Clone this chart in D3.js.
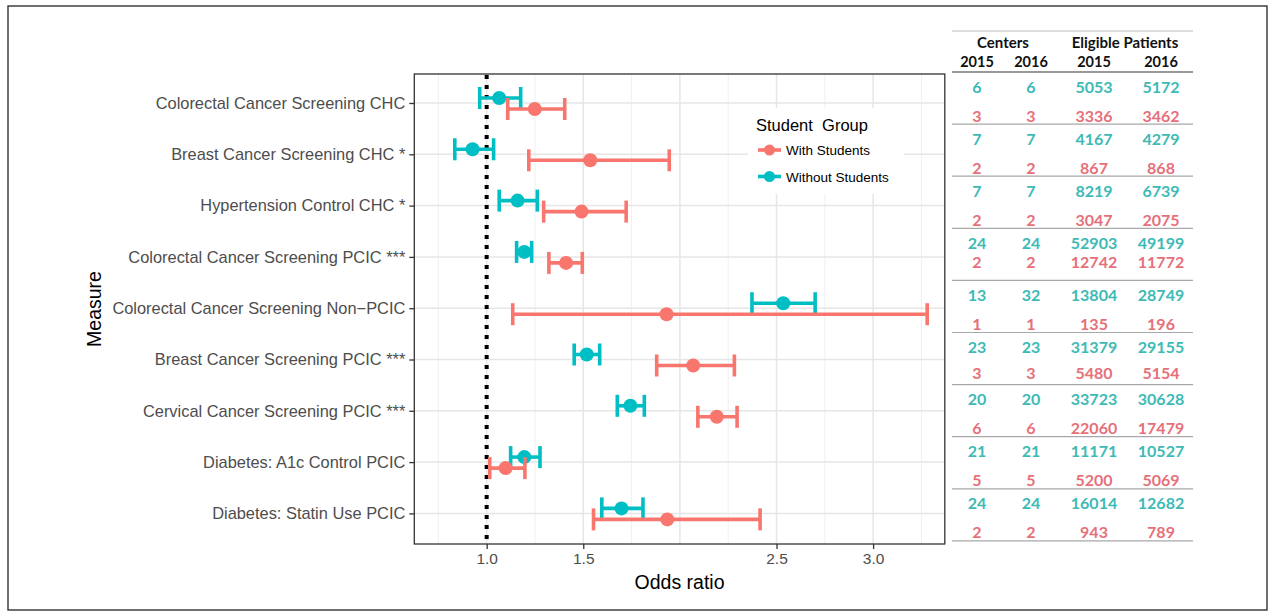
<!DOCTYPE html>
<html>
<head>
<meta charset="utf-8">
<script src="https://cdn.jsdelivr.net/npm/d3@7"></script>
<style>
  body { margin: 0; background: #fff; }
  svg { display: block; }
  .axis text { font-family: "Liberation Sans", Arial, sans-serif; fill: #4d4d4d; }
  .axis path, .axis line { stroke: #333; stroke-width: 1.3; }
  .tbl text { font-family: Lato, "Open Sans", sans-serif; font-weight: 700; }
</style>
</head>
<body>
<div id="chart"></div>
<script>
// measures, top to bottom
var measures = [
  "Colorectal Cancer Screening CHC",
  "Breast Cancer Screening CHC *",
  "Hypertension Control CHC *",
  "Colorectal Cancer Screening PCIC ***",
  "Colorectal Cancer Screening Non\u2212PCIC",
  "Breast Cancer Screening PCIC ***",
  "Cervical Cancer Screening PCIC ***",
  "Diabetes: A1c Control PCIC",
  "Diabetes: Statin Use PCIC"
];

// odds ratios and CIs
var withOR = [1.249, 1.536, 1.491, 1.411, 1.931, 2.069, 2.191, 1.098, 1.935];
var withLo = [1.109, 1.218, 1.295, 1.322, 1.135, 1.880, 2.093, 1.016, 1.553];
var withHi = [1.404, 1.945, 1.722, 1.495, 3.280, 2.282, 2.296, 1.198, 2.415];
var withoutOR = [1.065, 0.927, 1.160, 1.195, 2.535, 1.518, 1.744, 1.195, 1.698];
var withoutLo = [0.964, 0.835, 1.065, 1.155, 2.373, 1.453, 1.676, 1.124, 1.596];
var withoutHi = [1.176, 1.036, 1.262, 1.233, 2.700, 1.585, 1.816, 1.276, 1.809];

var xTicks = [1.0, 1.5, 2.5, 3.0];
var groups = ["With Students", "Without Students"];

// table values
var withoutCenters2015 = [6, 7, 7, 24, 13, 23, 20, 21, 24];
var withoutCenters2016 = [6, 7, 7, 24, 32, 23, 20, 21, 24];
var withoutPatients2015 = [5053, 4167, 8219, 52903, 13804, 31379, 33723, 11171, 16014];
var withoutPatients2016 = [5172, 4279, 6739, 49199, 28749, 29155, 30628, 10527, 12682];
var withCenters2015 = [3, 2, 2, 2, 1, 3, 6, 5, 2];
var withCenters2016 = [3, 2, 2, 2, 1, 3, 6, 5, 2];
var withPatients2015 = [3336, 867, 3047, 12742, 135, 5480, 22060, 5200, 943];
var withPatients2016 = [3462, 868, 2075, 11772, 196, 5154, 17479, 5069, 789];

var red = "#F8766D", cyan = "#00BFC4";
var redText = "#e6707a", cyanText = "#3dbab5";

var svgWidth = 1273, svgHeight = 616;
var panel = { left: 414.3, right: 944.8, top: 74, bottom: 544 };

var svg = d3.select("#chart").append("svg")
  .attr("width", svgWidth)
  .attr("height", svgHeight);

// outer frame
svg.append("rect")
  .attr("x", 8).attr("y", 6)
  .attr("width", 1259).attr("height", 604)
  .attr("fill", "none").attr("stroke", "#333").attr("stroke-width", 1.4);

var xScale = d3.scaleLinear()
  .domain([0.6255, 3.371])
  .range([panel.left, panel.right]);

var yScale = d3.scalePoint()
  .domain(measures)
  .range([103, 513.4]);

// grid
var g = svg.append("g");
var minor = d3.range(0.75, 3.3, 0.5);
var major = d3.range(1.0, 3.01, 0.5);
g.selectAll(".minor").data(minor).enter().append("line")
  .attr("x1", d => xScale(d)).attr("x2", d => xScale(d))
  .attr("y1", panel.top).attr("y2", panel.bottom)
  .attr("stroke", "#f0f0f0").attr("stroke-width", 1);
g.selectAll(".major").data(major).enter().append("line")
  .attr("x1", d => xScale(d)).attr("x2", d => xScale(d))
  .attr("y1", panel.top).attr("y2", panel.bottom)
  .attr("stroke", "#e6e6e6").attr("stroke-width", 1.5);
g.selectAll(".hgrid").data(measures).enter().append("line")
  .attr("x1", panel.left).attr("x2", panel.right)
  .attr("y1", d => yScale(d)).attr("y2", d => yScale(d))
  .attr("stroke", "#e6e6e6").attr("stroke-width", 1.5);

// legend background (covers grid)
svg.append("rect")
  .attr("x", 748).attr("y", 108).attr("width", 156).attr("height", 86)
  .attr("fill", "#fff");

// reference line at OR = 1
svg.append("line")
  .attr("x1", xScale(1)).attr("x2", xScale(1))
  .attr("y1", panel.top + 1).attr("y2", panel.bottom)
  .attr("stroke", "#000").attr("stroke-width", 4)
  .attr("stroke-dasharray", "4 6");

// build rows for the two groups
var series = [
  { name: groups[1], color: cyan, dy: -5, or: withoutOR, lo: withoutLo, hi: withoutHi },
  { name: groups[0], color: red, dy: 6, or: withOR, lo: withLo, hi: withHi }
];

series.forEach(function(s) {
  var rows = measures.map(function(m, i) {
    return { m: m, or: s.or[i], lo: s.lo[i], hi: s.hi[i] };
  });
  var sg = svg.append("g");
  var capH = 11;
  sg.selectAll(".bar").data(rows).enter().append("line")
    .attr("x1", d => xScale(d.lo)).attr("x2", d => xScale(d.hi))
    .attr("y1", d => yScale(d.m) + s.dy).attr("y2", d => yScale(d.m) + s.dy)
    .attr("stroke", s.color).attr("stroke-width", 3.6);
  ["lo", "hi"].forEach(function(k) {
    sg.selectAll(".cap" + k).data(rows).enter().append("line")
      .attr("x1", d => xScale(d[k])).attr("x2", d => xScale(d[k]))
      .attr("y1", d => yScale(d.m) + s.dy - capH).attr("y2", d => yScale(d.m) + s.dy + capH)
      .attr("stroke", s.color).attr("stroke-width", 3.6);
  });
  sg.selectAll("circle").data(rows).enter().append("circle")
    .attr("cx", d => xScale(d.or))
    .attr("cy", d => yScale(d.m) + s.dy)
    .attr("r", 7)
    .attr("fill", s.color);
});

// panel border
svg.append("rect")
  .attr("x", panel.left).attr("y", panel.top)
  .attr("width", panel.right - panel.left).attr("height", panel.bottom - panel.top)
  .attr("fill", "none").attr("stroke", "#333").attr("stroke-width", 1.3);

// axes
var xAxis = svg.append("g").attr("class", "axis")
  .attr("transform", `translate(0, ${panel.bottom})`)
  .call(d3.axisBottom(xScale).tickValues(xTicks).tickFormat(d3.format(".1f"))
    .tickSize(5).tickPadding(4).tickSizeOuter(0));
xAxis.select(".domain").remove();
xAxis.selectAll("text").style("font-size", "15.5px");

var yAxis = svg.append("g").attr("class", "axis")
  .attr("transform", `translate(${panel.left}, 0)`)
  .call(d3.axisLeft(yScale).tickSize(5).tickPadding(4));
yAxis.select(".domain").remove();
yAxis.selectAll("text").style("font-size", "16.4px");

// axis titles
svg.append("text")
  .attr("x", (panel.left + panel.right) / 2).attr("y", 589)
  .attr("text-anchor", "middle")
  .style("font-family", "Liberation Sans, Arial, sans-serif")
  .style("font-size", "19.5px")
  .text("Odds ratio");

svg.append("text")
  .attr("transform", "translate(101, 309) rotate(-90)")
  .attr("text-anchor", "middle")
  .style("font-family", "Liberation Sans, Arial, sans-serif")
  .style("font-size", "19.5px")
  .text("Measure");

// legend
var legend = svg.append("g")
  .style("font-family", "Liberation Sans, Arial, sans-serif");
legend.append("text")
  .attr("x", 756).attr("y", 131)
  .style("font-size", "16.5px")
  .style("white-space", "pre")
  .text("Student  Group");
[{ name: groups[0], color: red }, { name: groups[1], color: cyan }].forEach(function(d, i) {
  var ly = 150 + i * 26.5;
  legend.append("line")
    .attr("x1", 758).attr("x2", 781).attr("y1", ly).attr("y2", ly)
    .attr("stroke", d.color).attr("stroke-width", 3.6);
  legend.append("circle")
    .attr("cx", 769.5).attr("cy", ly).attr("r", 5.5).attr("fill", d.color);
  legend.append("text")
    .attr("x", 786).attr("y", ly + 5)
    .style("font-size", "13.5px")
    .text(d.name);
});

// table on the right
var tbl = svg.append("g").attr("class", "tbl");
var colX = [977, 1031, 1094, 1161];
var tblLeft = 952, tblRight = 1193;
var sepY = d3.range(10).map(k => 72 + 52.1 * k);
var redGap = [29, 29, 29, 19, 29, 26, 29, 29, 29];

tbl.append("line")
  .attr("x1", tblLeft).attr("x2", tblRight).attr("y1", 31).attr("y2", 31)
  .attr("stroke", "#bbb").attr("stroke-width", 1);
tbl.append("text").attr("x", 1003).attr("y", 48).attr("text-anchor", "middle")
  .style("font-size", "15px").attr("fill", "#111").text("Centers");
tbl.append("text").attr("x", 1125).attr("y", 48).attr("text-anchor", "middle")
  .style("font-size", "15px").attr("fill", "#111").text("Eligible Patients");
["2015", "2016", "2015", "2016"].forEach(function(t, i) {
  tbl.append("text").attr("x", colX[i]).attr("y", 67).attr("text-anchor", "middle")
    .style("font-size", "14.5px").attr("fill", "#111").text(t);
});

tbl.selectAll(".sep").data(sepY).enter().append("line")
  .attr("x1", tblLeft).attr("x2", tblRight)
  .attr("y1", d => d).attr("y2", d => d)
  .attr("stroke", (d, i) => i === 0 ? "#777" : "#a8a8a8")
  .attr("stroke-width", (d, i) => i === 0 ? 1.4 : 1.2);

var withoutCols = [withoutCenters2015, withoutCenters2016, withoutPatients2015, withoutPatients2016];
var withCols = [withCenters2015, withCenters2016, withPatients2015, withPatients2016];

measures.forEach(function(m, i) {
  var cy = sepY[i] + 14;
  withoutCols.forEach(function(col, c) {
    tbl.append("text").attr("x", colX[c]).attr("y", cy)
      .attr("text-anchor", "middle").attr("dominant-baseline", "central")
      .style("font-size", "16px").attr("fill", cyanText).text(col[i]);
  });
  withCols.forEach(function(col, c) {
    tbl.append("text").attr("x", colX[c]).attr("y", cy + redGap[i])
      .attr("text-anchor", "middle").attr("dominant-baseline", "central")
      .style("font-size", "16px").attr("fill", redText).text(col[i]);
  });
});
</script>
</body>
</html>
